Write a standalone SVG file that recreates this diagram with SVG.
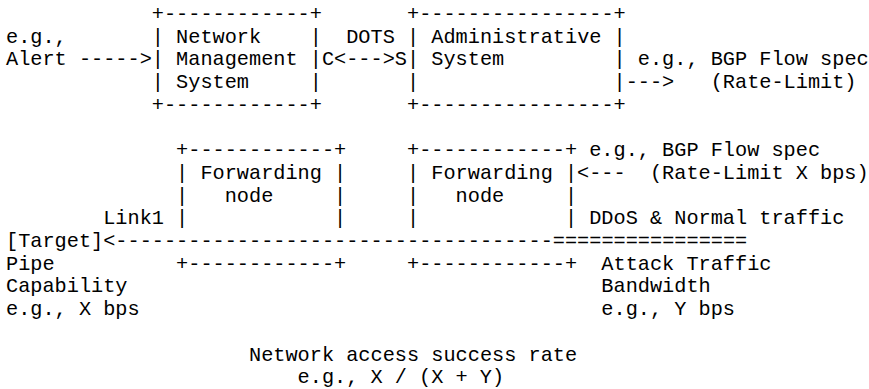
<svg xmlns="http://www.w3.org/2000/svg" width="869" height="389" viewBox="0 0 869 389">
  <style>
    text { font-family: "Liberation Mono", "Courier New", monospace; font-size: 20.25px; fill: #000; white-space: pre; }
  </style>
  <rect width="869" height="389" fill="#fff"/>

  <!-- Network Management System -->
  <g id="nms">
    <text x="151.8" y="20" xml:space="preserve">+------------+</text>
    <text x="151.8" y="42.7" xml:space="preserve">| Network    |</text>
    <text x="151.8" y="65.4" xml:space="preserve">| Management |</text>
    <text x="151.8" y="88.1" xml:space="preserve">| System     |</text>
    <text x="151.8" y="110.8" xml:space="preserve">+------------+</text>
  </g>

  <!-- Administrative System -->
  <g id="admin">
    <text x="407" y="20" xml:space="preserve">+----------------+</text>
    <text x="407" y="42.7" xml:space="preserve">| Administrative |</text>
    <text x="407" y="65.4" xml:space="preserve">| System         |</text>
    <text x="407" y="88.1" xml:space="preserve">|                |</text>
    <text x="407" y="110.8" xml:space="preserve">+----------------+</text>
  </g>

  <!-- Forwarding node near the target -->
  <g id="fwd1">
    <text x="176.1" y="156.2" xml:space="preserve">+------------+</text>
    <text x="176.1" y="178.9" xml:space="preserve">| Forwarding |</text>
    <text x="176.1" y="201.6" xml:space="preserve">|   node     |</text>
    <text x="176.1" y="224.3" xml:space="preserve">|            |</text>
    <text x="176.1" y="269.7" xml:space="preserve">+------------+</text>
  </g>

  <!-- Forwarding node at the edge -->
  <g id="fwd2">
    <text x="407" y="156.2" xml:space="preserve">+------------+</text>
    <text x="407" y="178.9" xml:space="preserve">| Forwarding |</text>
    <text x="407" y="201.6" xml:space="preserve">|   node     |</text>
    <text x="407" y="224.3" xml:space="preserve">|            |</text>
    <text x="407" y="269.7" xml:space="preserve">+------------+</text>
  </g>

  <!-- Target -->
  <g id="target">
    <text x="6" y="247">[Target]</text>
    <text x="6" y="269.7">Pipe</text>
    <text x="6" y="292.4">Capability</text>
    <text x="6" y="315.1">e.g., X bps</text>
  </g>

  <!-- Connectors -->
  <g id="connectors">
    <text x="6" y="42.7">e.g.,</text>
    <text x="6" y="65.4" xml:space="preserve">Alert -----&gt;</text>
    <text x="346.2" y="42.7">DOTS</text>
    <text x="321.9" y="65.4">C&lt;---&gt;S</text>
    <text x="637.8" y="65.4">e.g., BGP Flow spec</text>
    <text x="625.65" y="88.1">---&gt;</text>
    <text x="710.7" y="88.1">(Rate-Limit)</text>
    <text x="589.2" y="156.2">e.g., BGP Flow spec</text>
    <text x="577.05" y="178.9">&lt;---</text>
    <text x="649.95" y="178.9">(Rate-Limit X bps)</text>
    <text x="103.2" y="224.3">Link1</text>
    <text x="589.2" y="224.3">DDoS &amp; Normal traffic</text>
    <text x="103.2" y="247">&lt;------------------------------------================</text>
  </g>

  <!-- Traffic and rate notes -->
  <g id="notes">
    <text x="601.35" y="269.7">Attack Traffic</text>
    <text x="601.35" y="292.4">Bandwidth</text>
    <text x="601.35" y="315.1">e.g., Y bps</text>
    <text x="249" y="360.5">Network access success rate</text>
    <text x="297.6" y="383.2">e.g., X / (X + Y)</text>
  </g>
</svg>
